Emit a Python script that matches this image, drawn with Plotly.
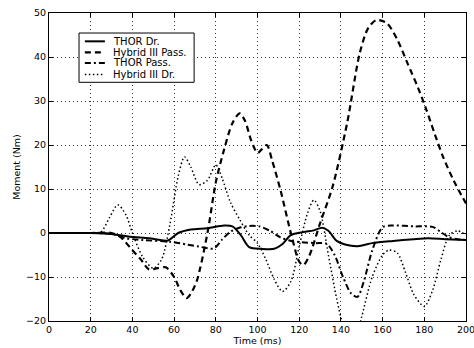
import plotly.graph_objects as go

# ---- data ----
t_thor_dr = [0, 10, 20, 30, 38, 48, 57, 62, 68, 76, 84, 88, 92, 96, 102, 108, 112, 116, 122, 127, 131, 134, 138, 142, 148, 155, 165, 175, 182, 190, 200]
v_thor_dr = [0, 0, 0, -0.2, -0.8, -1.2, -1.7, 0, 0.8, 1.1, 1.7, 1.5, -0.5, -3.2, -3.6, -3.6, -2.5, -0.5, 0.2, 0.6, 1.2, 0.5, -1.8, -2.6, -3.0, -2.3, -1.8, -1.4, -1.2, -1.4, -1.6]

t_h3_pass = [0, 10, 20, 30, 34, 40, 44, 48, 52, 56, 60, 63, 66, 68, 71, 76, 80, 84, 88, 91.5, 94, 97, 100, 102, 104.5, 107, 111, 116, 120, 122, 125, 130, 136, 143, 149, 153, 157, 162, 167, 172, 177, 181, 185, 189, 194, 200]
v_h3_pass = [0, 0, 0, 0, -0.8, -3.9, -6, -8.3, -8, -7.8, -10, -13, -14.8, -13.8, -10.7, 0, 11.5, 19, 25, 27.2, 25.5, 21, 18.2, 19, 20, 16.5, 9.8, 0, -6.5, -7.3, -5, 2.2, 10.5, 25, 40.8, 46.5, 48.4, 47.7, 44, 38.5, 33, 28, 22.5, 17.3, 12, 6.7]

t_thor_pass = [0, 10, 20, 30, 37, 45, 58, 66, 72, 79, 83, 87, 92, 96, 101, 106, 111, 116, 121, 128, 133, 137, 141, 145, 148, 151, 155, 160, 165, 175, 184, 188, 192, 196, 200]
v_thor_pass = [0, 0, 0, -0.2, -1.2, -1.6, -2.0, -2.6, -3.1, -3.5, -1.5, 0.3, 1.3, 1.6, 1.5, 0.5, -1.0, -1.8, -2.1, -2.3, -2.4, -5, -10, -13.8, -14.5, -11, -4, 1.3, 1.7, 1.5, 1.4, 0.2, -1.0, -1.4, -1.6]

t_h3_dr = [0, 10, 20, 25, 29, 33, 37, 40, 45, 50, 54, 58, 62, 65, 68, 72, 76, 80, 83, 87, 91.5, 96, 100, 104, 108, 112, 116, 120, 124, 127, 130, 134, 138, 141, 144, 147, 150, 155, 160, 163, 167, 171, 175, 180, 184, 188, 192, 196, 200]
v_h3_dr = [0, 0, 0, 0.3, 3.5, 6.4, 4, 0, -5.5, -8, -6, 2, 13, 17.3, 15, 11, 12, 15.5, 12.5, 7, 3, -0.5, -2.3, -6, -10.5, -13.3, -11, -3, 4.5, 7.5, 5, -5, -15, -21, -25, -24, -19, -10, -5, -3.9, -4.5, -9, -14, -16.7, -13, -6, -0.5, 0.5, -0.5]

names = ["THOR Dr.", "Hybrid III Pass.", "THOR Pass.", "Hybrid III Dr."]
x_ticks = [0, 20, 40, 60, 80, 100, 120, 140, 160, 180, 200]
y_ticks = [-20, -10, 0, 10, 20, 30, 40, 50]

styles = [("solid", 2), ("6px,4px", 2.2), ("6px,3px,2px,3px", 2), ("1.5px,2.5px", 1.5)]
data = [(t_thor_dr, v_thor_dr), (t_h3_pass, v_h3_pass), (t_thor_pass, v_thor_pass), (t_h3_dr, v_h3_dr)]

FONT = "DejaVu Sans, Liberation Sans, sans-serif"

fig = go.Figure()
for (t, v), n, (d, w) in zip(data, names, styles):
    fig.add_trace(go.Scatter(x=t, y=v, name=n, mode="lines", showlegend=False,
                             line=dict(color="black", dash=d, width=w, shape="spline", smoothing=0.8)))

axis_common = dict(showline=True, linecolor="black", linewidth=1, mirror="ticks",
                   ticks="inside", ticklen=4, tickcolor="black",
                   showgrid=True, gridcolor="#333", gridwidth=1, griddash="1px,3px",
                   zeroline=False, tickfont=dict(family=FONT, size=9.5, color="black"))

fig.update_xaxes(range=[0, 200], tickvals=x_ticks, ticklabeloverflow="allow",
                 title=dict(text="Time (ms)", standoff=0, font=dict(family=FONT, size=9.5)), **axis_common)
fig.update_yaxes(range=[-20, 50], tickvals=y_ticks,
                 title=dict(text="Moment (Nm)", standoff=3, font=dict(family=FONT, size=9.5)), **axis_common)

# ---- compact MATLAB-style legend box (paper coords) ----
box_x0, box_x1, box_y0, box_y1 = 0.072, 0.348, 0.775, 0.935
samp_x0, samp_x1, text_x = 0.086, 0.134, 0.148
row_y = [0.908, 0.872, 0.838, 0.800]
shapes = [dict(type="rect", xref="paper", yref="paper", x0=box_x0, x1=box_x1, y0=box_y0, y1=box_y1,
               line=dict(color="black", width=1), fillcolor="white", layer="above")]
annotations = []
for n, (d, w), ry in zip(names, styles, row_y):
    shapes.append(dict(type="line", xref="paper", yref="paper", x0=samp_x0, x1=samp_x1, y0=ry, y1=ry,
                       line=dict(color="black", dash=d, width=w), layer="above"))
    annotations.append(dict(text=n, xref="paper", yref="paper", x=text_x, y=ry, xanchor="left",
                            yanchor="middle", showarrow=False,
                            font=dict(family=FONT, size=10, color="black")))

fig.update_layout(
    width=474, height=348,
    margin=dict(l=49, r=8, t=13, b=27, autoexpand=False),
    paper_bgcolor="white", plot_bgcolor="white",
    font=dict(family=FONT, size=10, color="black"),
    shapes=shapes, annotations=annotations,
    showlegend=False,
)

fig.write_html("out.html")
